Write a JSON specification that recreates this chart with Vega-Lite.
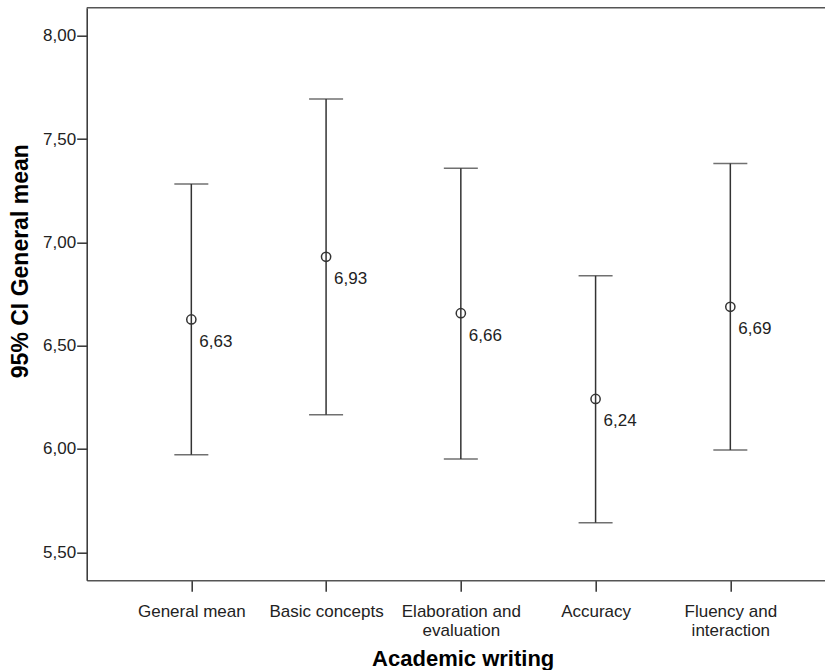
{
  "$schema": "https://vega.github.io/schema/vega-lite/v6.json",
  "autosize": {"type": "none"},
  "padding": {"left": 86.7, "top": 7.7, "right": 0, "bottom": 89.7},
  "width": 738.3,
  "height": 572.6,
  "background": "white",
  "config": {
    "locale": {"number": {"decimal": ",", "thousands": ".", "grouping": [3], "currency": ["", " €"]}},
    "view": {"stroke": null},
    "font": "Liberation Sans"
  },
  "data": {
    "values": [
      {"category": "General mean", "mean": 6.627, "lower": 5.972, "upper": 7.282},
      {"category": "Basic concepts", "mean": 6.930, "lower": 6.166, "upper": 7.694},
      {"category": "Elaboration and evaluation", "mean": 6.657, "lower": 5.951, "upper": 7.358},
      {"category": "Accuracy", "mean": 6.242, "lower": 5.643, "upper": 6.838},
      {"category": "Fluency and interaction", "mean": 6.688, "lower": 5.995, "upper": 7.381}
    ]
  },
  "layer": [
    {
      "mark": {"type": "rule", "color": "#333", "strokeWidth": 1.5},
      "encoding": {
        "x": {
          "field": "category", "type": "nominal", "sort": null,
          "scale": {"type": "point", "padding": 0.7395, "align": 0.525},
          "axis": {
            "title": "Academic writing",
            "titleFont": "Liberation Sans", "titleFontSize": 22, "titleFontWeight": "bold", "titleColor": "#000",
            "titleX": 376, "titleY": 85.4, "titleBaseline": "alphabetic", "titleAlign": "center",
            "labelAngle": 0, "labelFontSize": 17, "labelColor": "#222", "labelPadding": 12,
            "labelLineHeight": 19, "labelLimit": 0, "labelOverlap": false,
            "labelExpr": "datum.value == 'Elaboration and evaluation' ? ['Elaboration and', 'evaluation'] : datum.value == 'Fluency and interaction' ? ['Fluency and', 'interaction'] : datum.value",
            "tickSize": 11, "tickColor": "#333", "tickWidth": 1.5,
            "domainColor": "#555", "domainWidth": 1.5, "grid": false
          }
        },
        "y": {
          "field": "lower", "type": "quantitative",
          "title": "95% CI General mean",
          "scale": {"domain": [5.3645, 8.1355], "nice": false, "zero": false},
          "axis": {
            "title": "95% CI General mean",
            "values": [5.5, 6, 6.5, 7, 7.5, 8], "format": ".2f", "grid": false,
            "tickSize": 10, "tickColor": "#333", "tickWidth": 1.5,
            "labelPadding": 1, "labelFontSize": 17, "labelColor": "#222",
            "domainColor": "#333", "domainWidth": 1.5,
            "titleFont": "Liberation Sans", "titleFontSize": 23, "titleFontWeight": "bold", "titleColor": "#000",
            "titleAngle": -90, "titleX": -59.5, "titleY": 253, "titleBaseline": "alphabetic", "titleAlign": "center"
          }
        },
        "y2": {"field": "upper"}
      }
    },
    {
      "mark": {"type": "tick", "color": "#333", "size": 34, "thickness": 1.5},
      "encoding": {
        "x": {"field": "category", "type": "nominal", "sort": null},
        "y": {"field": "lower", "type": "quantitative", "title": "95% CI General mean"}
      }
    },
    {
      "mark": {"type": "tick", "color": "#333", "size": 34, "thickness": 1.5},
      "encoding": {
        "x": {"field": "category", "type": "nominal", "sort": null},
        "y": {"field": "upper", "type": "quantitative", "title": "95% CI General mean"}
      }
    },
    {
      "mark": {"type": "point", "shape": "circle", "filled": false, "stroke": "#333", "strokeWidth": 1.5, "size": 85, "opacity": 1},
      "encoding": {
        "x": {"field": "category", "type": "nominal", "sort": null},
        "y": {"field": "mean", "type": "quantitative", "title": "95% CI General mean"}
      }
    },
    {
      "mark": {"type": "text", "align": "left", "baseline": "alphabetic", "dx": 8, "dy": 27.5, "fontSize": 17, "color": "#222", "font": "Liberation Sans"},
      "encoding": {
        "x": {"field": "category", "type": "nominal", "sort": null},
        "y": {"field": "mean", "type": "quantitative", "title": "95% CI General mean"},
        "text": {"field": "mean", "type": "quantitative", "format": ".2f"}
      }
    },
    {
      "data": {"values": [{}]},
      "mark": {"type": "rule", "color": "#555", "strokeWidth": 1.5},
      "encoding": {"y": {"datum": 8.1355, "title": "95% CI General mean"}}
    }
  ]
}
